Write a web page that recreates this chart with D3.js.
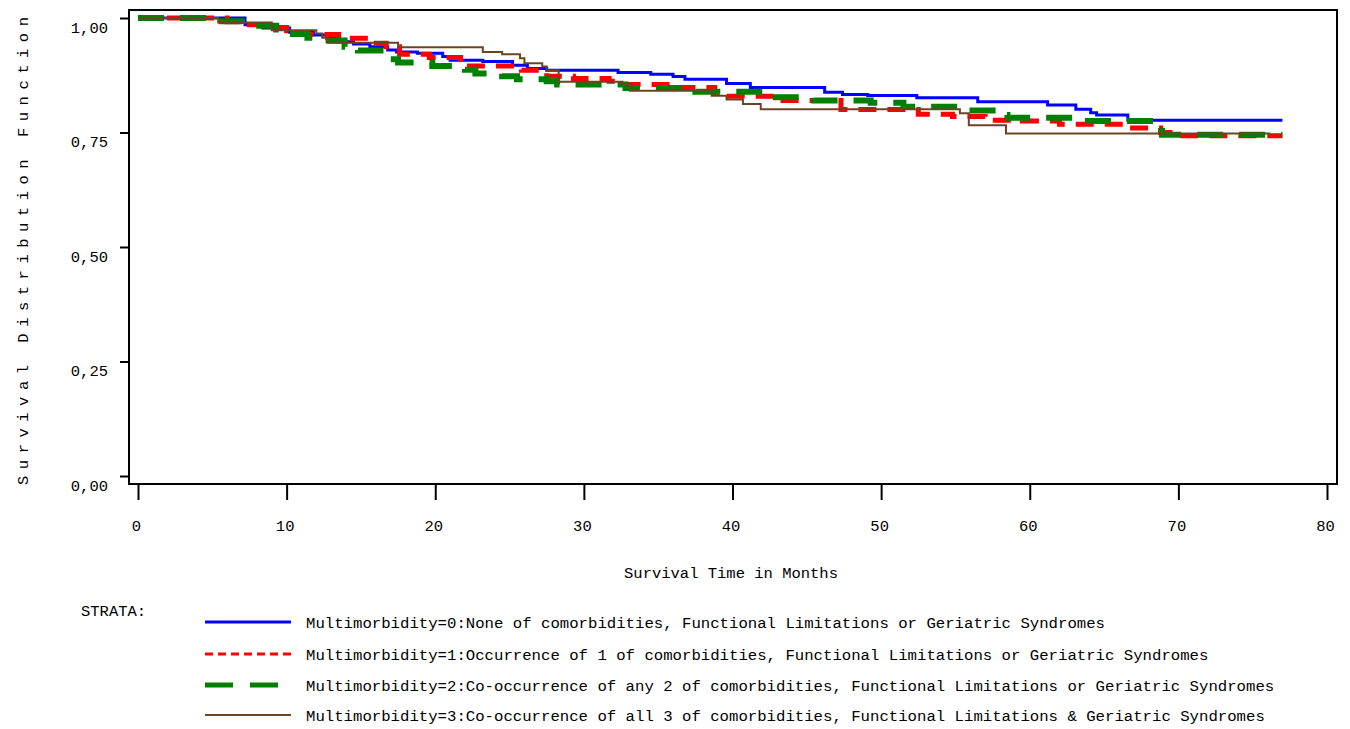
<!DOCTYPE html>
<html>
<head>
<meta charset="utf-8">
<script src="https://cdn.jsdelivr.net/npm/d3@7"></script>
<style>
  html, body { margin: 0; padding: 0; background: #fff; }
  svg text { font-family: "Liberation Mono", "DejaVu Sans Mono", monospace; fill: #000; }
</style>
</head>
<body>
<svg id="chart" width="1350" height="729"></svg>
<script>
// ---- data ----
const xTicks = [0, 10, 20, 30, 40, 50, 60, 70, 80];
const yTicks = [0, 0.25, 0.5, 0.75, 1.0];
const yTickLabels = ["0,00", "0,25", "0,50", "0,75", "1,00"];

const seriesNames = [
  "Multimorbidity=0:None of comorbidities, Functional Limitations or Geriatric Syndromes",
  "Multimorbidity=1:Occurrence of 1 of comorbidities, Functional Limitations or Geriatric Syndromes",
  "Multimorbidity=2:Co-occurrence of any 2 of comorbidities, Functional Limitations or Geriatric Syndromes",
  "Multimorbidity=3:Co-occurrence of all 3 of comorbidities, Functional Limitations & Geriatric Syndromes"
];

const time0 = [0, 7.2, 8.4, 10.2, 11.8, 12.7, 13.3, 14.5, 15.6, 16.8, 17.4, 18.8, 20.5, 21.0, 23.2, 25.2, 26.2, 27.5, 32.3, 34.5, 36.0, 36.8, 39.6, 41.2, 46.2, 47.4, 49.1, 52.4, 56.5, 61.2, 63.1, 64.1, 64.5, 66.6, 77.0];
const surv0 = [1.00, 0.985, 0.978, 0.969, 0.963, 0.956, 0.948, 0.943, 0.937, 0.930, 0.926, 0.923, 0.916, 0.908, 0.905, 0.897, 0.890, 0.886, 0.881, 0.877, 0.872, 0.866, 0.857, 0.848, 0.838, 0.833, 0.831, 0.826, 0.817, 0.810, 0.801, 0.793, 0.788, 0.777, 0.777];

const time1 = [0, 6.0, 7.5, 9.0, 10.0, 10.7, 13.5, 15.6, 16.7, 17.6, 19.6, 21.7, 25.8, 27.5, 29.3, 31.7, 32.5, 36.0, 38.8, 39.3, 43.0, 47.3, 52.5, 54.8, 57.0, 59.5, 62.0, 66.4, 68.8, 70.3, 77.0];
const surv1 = [1.00, 0.992, 0.985, 0.979, 0.972, 0.964, 0.956, 0.945, 0.937, 0.921, 0.914, 0.895, 0.886, 0.873, 0.868, 0.862, 0.855, 0.848, 0.837, 0.829, 0.820, 0.800, 0.790, 0.785, 0.777, 0.775, 0.768, 0.760, 0.750, 0.743, 0.743];

const time2 = [0, 5.4, 7.0, 9.3, 9.9, 11.4, 12.0, 13.9, 14.8, 16.9, 17.5, 19.8, 22.0, 22.7, 24.5, 25.5, 27.5, 28.2, 32.8, 37.5, 41.8, 45.5, 49.3, 51.5, 55.3, 57.5, 58.5, 63.5, 68.9, 77.0];
const surv2 = [1.00, 0.993, 0.983, 0.975, 0.965, 0.957, 0.951, 0.937, 0.929, 0.910, 0.903, 0.895, 0.887, 0.879, 0.873, 0.866, 0.862, 0.855, 0.847, 0.839, 0.827, 0.820, 0.815, 0.806, 0.798, 0.788, 0.782, 0.775, 0.745, 0.745];

const time3 = [0, 5.4, 9.0, 12.0, 12.4, 12.8, 17.5, 23.2, 24.5, 25.7, 26.0, 27.2, 27.5, 28.3, 32.6, 33.1, 38.6, 39.6, 40.7, 41.9, 55.3, 55.9, 58.4, 76.2];
const surv3 = [1.00, 0.990, 0.973, 0.966, 0.957, 0.946, 0.936, 0.926, 0.921, 0.912, 0.901, 0.894, 0.886, 0.861, 0.855, 0.841, 0.830, 0.822, 0.812, 0.801, 0.792, 0.766, 0.748, 0.748];

// ---- styles ----
const colors = ["#0000ff", "#ff0000", "#008000", "#6b4423"];
const widths = [3, 5, 6, 2];
const dashes = [null, "18,11", "26,16", null];
const legendWidths = [3, 3, 5, 2];
const legendDashes = [null, "8,5", "28,17", null];

const series = [
  {t: time0, s: surv0},
  {t: time1, s: surv1},
  {t: time2, s: surv2},
  {t: time3, s: surv3}
];

const FONT = 15.5;
const svg = d3.select("#chart");
const x = d3.scaleLinear().domain([0, 80]).range([138, 1327]);
const y = d3.scaleLinear().domain([0, 1]).range([476, 18]);

const frame = {left: 129, right: 1337, top: 10, bottom: 484};

// curves
const line = d3.line().x(d => x(d[0])).y(d => y(d[1])).curve(d3.curveStepAfter);
series.forEach((ser, i) => {
  const pts = ser.t.map((tv, k) => [tv, ser.s[k]]);
  svg.append("path")
    .attr("d", line(pts))
    .attr("fill", "none")
    .attr("stroke", colors[i])
    .attr("stroke-width", widths[i])
    .attr("stroke-dasharray", dashes[i])
    .attr("stroke-linejoin", "miter")
    .attr("stroke-linecap", "butt");
});

// frame
svg.append("rect")
  .attr("x", frame.left).attr("y", frame.top)
  .attr("width", frame.right - frame.left).attr("height", frame.bottom - frame.top)
  .attr("fill", "none").attr("stroke", "#000").attr("stroke-width", 2);

// y axis ticks
const yAxis = d3.axisLeft(y).tickValues(yTicks).tickSize(9).tickSizeOuter(0)
  .tickFormat((d, i) => yTickLabels[i]);
const yg = svg.append("g").attr("transform", `translate(${frame.left},0)`).call(yAxis);
yg.select(".domain").remove();
yg.selectAll(".tick line").attr("stroke", "#000").attr("stroke-width", 2);
yg.selectAll(".tick text")
  .attr("x", -21).attr("dy", null).attr("y", 14)
  .attr("font-size", FONT).attr("font-family", "Liberation Mono").attr("fill", "#000");

// x axis ticks
const xAxis = d3.axisBottom(x).tickValues(xTicks).tickSize(16).tickSizeOuter(0).tickFormat(d3.format("d"));
const xg = svg.append("g").attr("transform", `translate(0,${frame.bottom})`).call(xAxis);
xg.select(".domain").remove();
xg.selectAll(".tick line").attr("stroke", "#000").attr("stroke-width", 2);
xg.selectAll(".tick text")
  .attr("y", 47).attr("dy", null).attr("x", -2)
  .attr("font-size", FONT).attr("font-family", "Liberation Mono").attr("fill", "#000");

// axis titles
svg.append("text")
  .attr("x", 731).attr("y", 578)
  .attr("text-anchor", "middle").attr("font-size", FONT)
  .text("Survival Time in Months");

svg.append("text")
  .attr("transform", "translate(28,251) rotate(-90)")
  .attr("text-anchor", "middle").attr("font-size", FONT)
  .attr("textLength", 468).attr("lengthAdjust", "spacing")
  .text("Survival Distribution Function");

// legend
svg.append("text").attr("x", 81).attr("y", 616).attr("font-size", FONT).text("STRATA:");
const legRows = [622, 654, 685, 715];
seriesNames.forEach((name, i) => {
  svg.append("line")
    .attr("x1", 205).attr("x2", 291)
    .attr("y1", legRows[i]).attr("y2", legRows[i])
    .attr("stroke", colors[i]).attr("stroke-width", legendWidths[i])
    .attr("stroke-dasharray", legendDashes[i]);
  svg.append("text")
    .attr("x", 306).attr("y", legRows[i] + 6)
    .attr("font-size", FONT)
    .attr("textLength", name.length * 9.4).attr("lengthAdjust", "spacingAndGlyphs")
    .text(name);
});
</script>
</body>
</html>
